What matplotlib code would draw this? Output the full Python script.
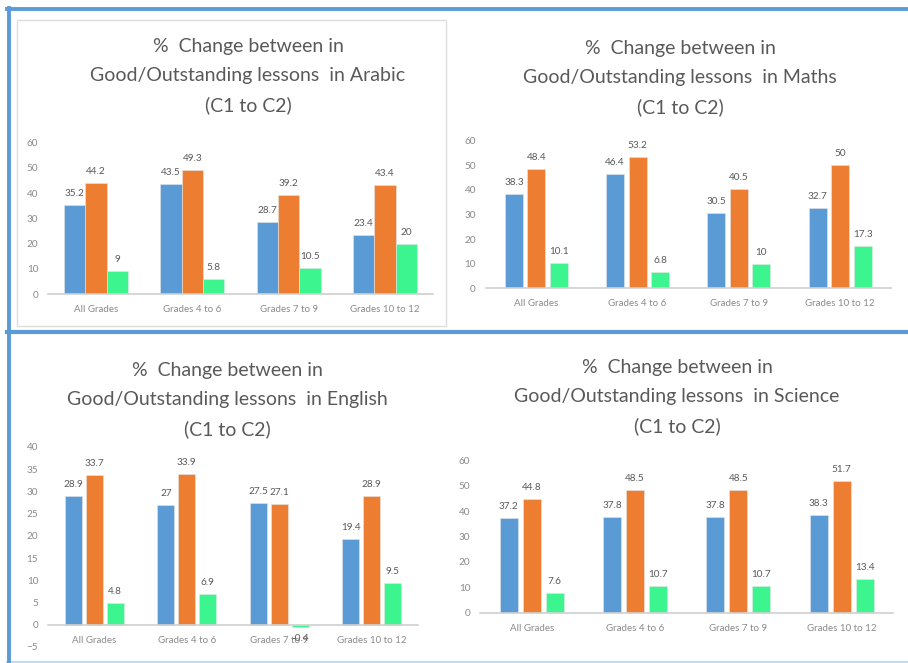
import matplotlib
matplotlib.use("Agg")
import matplotlib.pyplot as plt
from matplotlib.patches import Rectangle
from matplotlib.lines import Line2D
import numpy as np

# ---- data ----
categories = ["All Grades", "Grades 4 to 6", "Grades 7 to 9", "Grades 10 to 12"]

arabic_c1 = [35.2, 43.5, 28.7, 23.4]
arabic_c2 = [44.2, 49.3, 39.2, 43.4]
arabic_change = [9, 5.8, 10.5, 20]

maths_c1 = [38.3, 46.4, 30.5, 32.7]
maths_c2 = [48.4, 53.2, 40.5, 50]
maths_change = [10.1, 6.8, 10, 17.3]

english_c1 = [28.9, 27, 27.5, 19.4]
english_c2 = [33.7, 33.9, 27.1, 28.9]
english_change = [4.8, 6.9, -0.4, 9.5]

science_c1 = [37.2, 37.8, 37.8, 38.3]
science_c2 = [44.8, 48.5, 48.5, 51.7]
science_change = [7.6, 10.7, 10.7, 13.4]

subjects = ["Arabic", "Maths", "English", "Science"]

# ---- style ----
W, H = 908, 663
BLUE = "#5B9BD5"
ORANGE = "#ED7D31"
GREEN = "#3DF58F"
TEXT = "#595959"
TICK = "#8a8a8a"
FONT = "Lato"

plt.rcParams["font.family"] = [FONT, "DejaVu Sans"]

fig = plt.figure(figsize=(W / 100, H / 100), dpi=100)
fig.patch.set_facecolor("white")


def px_box(left, right, top, bottom):
    return [left / W, 1 - bottom / H, (right - left) / W, (bottom - top) / H]


def draw_panel(box, ylim, yticks, series, bar_w, pitch, title, title_xy):
    ax = fig.add_axes(px_box(*box))
    x = np.arange(len(categories))
    colors = [BLUE, ORANGE, GREEN]
    for i, (vals, col) in enumerate(zip(series, colors)):
        offs = (i - 1) * pitch
        bars = ax.bar(x + offs, vals, width=bar_w, color=col,
                      edgecolor="#e6e6e6", linewidth=0.4, zorder=3)
        for b, v in zip(bars, vals):
            ax.annotate(f"{v:g}", (b.get_x() + b.get_width() / 2, v),
                        xytext=(0, 7 if v >= 0 else -7),
                        textcoords="offset pixels", ha="center",
                        va="bottom" if v >= 0 else "top",
                        fontsize=7.2, color=TEXT, zorder=4)
    ax.set_xlim(-0.5, len(categories) - 0.5)
    ax.set_ylim(*ylim)
    ax.set_yticks(yticks)
    ax.set_xticks(x)
    ax.set_xticklabels(categories)
    for s in ["left", "right", "top"]:
        ax.spines[s].set_visible(False)
    ax.spines["bottom"].set_position(("data", 0))
    ax.spines["bottom"].set_color("#d0d0d0")
    ax.spines["bottom"].set_linewidth(1.2)
    ax.spines["bottom"].set_zorder(5)
    ax.tick_params(axis="x", length=0, pad=8, labelsize=7, labelcolor=TICK)
    ax.tick_params(axis="y", length=0, pad=7, labelsize=7.2, labelcolor=TICK)
    ax.set_facecolor("none")
    fig.text(title_xy[0] / W, 1 - title_xy[1] / H,
             "%  Change between in\nGood/Outstanding lessons  in " + title + "\n(C1 to C2)",
             ha="center", va="center", fontsize=14, color=TEXT,
             linespacing=1.85)
    return ax


# frame around the first chart
fig.add_artist(Rectangle((17 / W, 1 - 326 / H), (446 - 17) / W, (326 - 20) / H,
                         transform=fig.transFigure, fill=False,
                         edgecolor="#dcdcdc", linewidth=1.0))

draw_panel((48, 433, 142.7, 294), (0, 60), range(0, 61, 10),
           [arabic_c1, arabic_c2, arabic_change], 0.221, 0.221,
           subjects[0], (248, 76))
draw_panel((485.7, 890.7, 140.7, 288.3), (0, 60), range(0, 61, 10),
           [maths_c1, maths_c2, maths_change], 0.178, 0.222,
           subjects[1], (680, 78))
draw_panel((48, 418, 447, 647), (-5, 40), range(-5, 41, 5),
           [english_c1, english_c2, english_change], 0.184, 0.225,
           subjects[2], (227, 400))
draw_panel((480, 893.3, 460.3, 612.7), (0, 60), range(0, 61, 10),
           [science_c1, science_c2, science_change], 0.174, 0.223,
           subjects[3], (677, 397))

# blue separators / borders
def hline(y, x0, x1, lw, color):
    fig.add_artist(Line2D([x0 / W, x1 / W], [1 - y / H, 1 - y / H],
                          transform=fig.transFigure, color=color, linewidth=lw))


def vline(x, y0, y1, lw, color):
    fig.add_artist(Line2D([x / W, x / W], [1 - y0 / H, 1 - y1 / H],
                          transform=fig.transFigure, color=color, linewidth=lw))


hline(9, 7, W, 2.8, BLUE)
hline(331.5, 7, W, 3.0, BLUE)
hline(661.5, 7, W, 1.6, "#c5dcf0")
vline(8.7, 7.5, 663, 2.8, BLUE)

fig.savefig("out.png", dpi=100, facecolor="white")
